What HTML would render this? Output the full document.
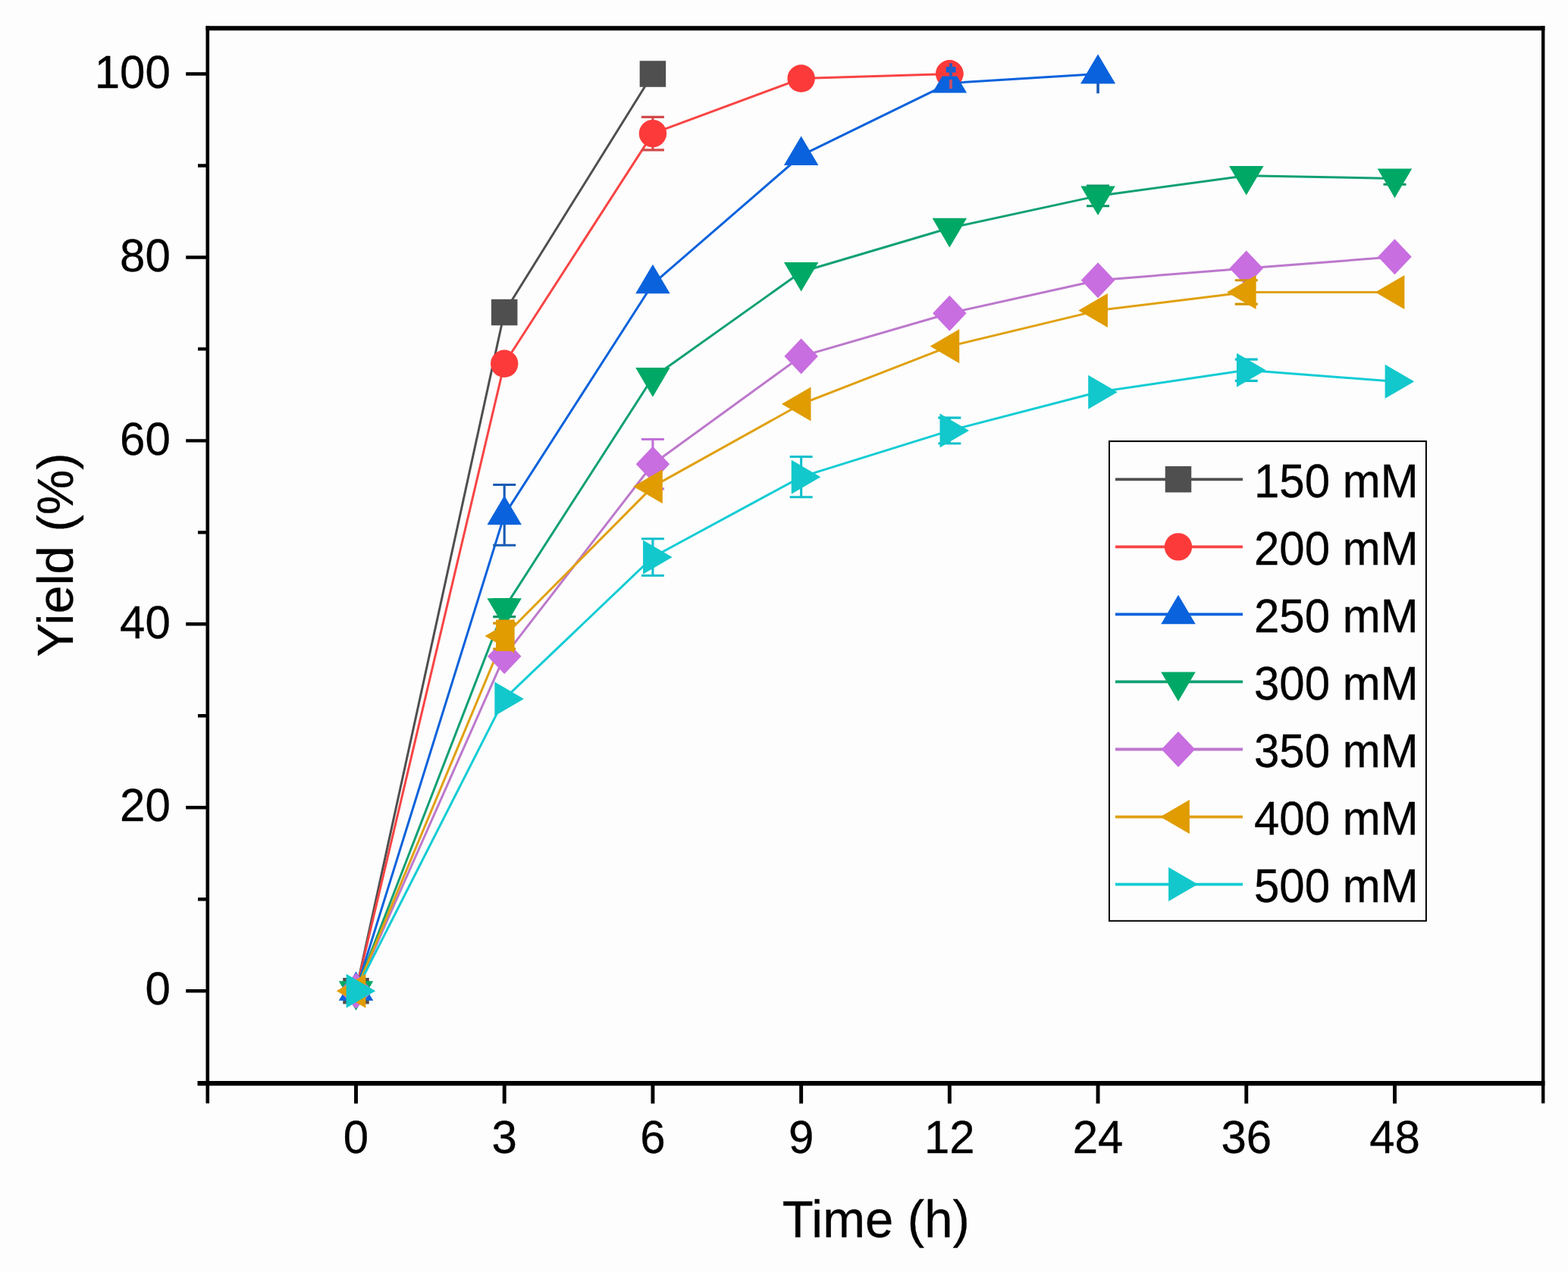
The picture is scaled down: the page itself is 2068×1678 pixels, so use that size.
<!DOCTYPE html>
<html><head><meta charset="utf-8"><title>Yield vs Time</title>
<style>html,body{margin:0;padding:0;overflow:hidden;background:#fdfdfd;}svg{display:block;}</style></head><body>
<svg width="2068" height="1678" viewBox="0 0 2068 1678" font-family="'Liberation Sans', Arial, sans-serif">
<rect width="2068" height="1678" fill="#fdfdfd"/>
<g fill="none" stroke-width="3.0" stroke-linejoin="round">
<polyline points="469.51,1307.20 665.22,412.02 860.93,97.50" stroke="#4f4f4f"/>
<polyline points="469.51,1307.20 665.22,479.77 860.93,176.13 1056.64,103.55 1252.36,97.50" stroke="#f84444"/>
<polyline points="469.51,1307.20 665.22,679.37 860.93,374.52 1056.64,205.16 1252.36,109.60 1448.07,97.50" stroke="#0a62dc"/>
<polyline points="469.51,1307.20 665.22,802.15 860.93,497.91 1056.64,358.80 1252.36,300.73 1448.07,258.39 1643.78,231.78 1839.49,235.41" stroke="#10a074"/>
<polyline points="469.51,1307.20 665.22,865.66 860.93,612.23 1056.64,470.09 1252.36,413.23 1448.07,369.68 1643.78,353.96 1839.49,338.84" stroke="#bc78cc"/>
<polyline points="469.51,1307.20 665.22,839.05 860.93,641.87 1056.64,532.99 1252.36,456.78 1448.07,409.60 1643.78,385.41 1839.49,385.41" stroke="#e0a010"/>
<polyline points="469.51,1307.20 665.22,921.91 860.93,735.01 1056.64,629.16 1252.36,568.07 1448.07,517.27 1643.78,488.23 1839.49,503.35" stroke="#12ccd4"/>
</g>
<g><rect x="452.26" y="1289.95" width="34.5" height="34.5" fill="#4f4f4f"/><rect x="647.97" y="394.77" width="34.5" height="34.5" fill="#4f4f4f"/><rect x="843.68" y="80.25" width="34.5" height="34.5" fill="#4f4f4f"/></g>
<g><path d="M860.93 154.36V197.91M845.93 154.36H875.93M845.93 197.91H875.93" stroke="#d24a4a" stroke-width="3.1" fill="none"/><circle cx="469.51" cy="1307.20" r="18.2" fill="#fc3a3a"/><circle cx="665.22" cy="479.77" r="18.2" fill="#fc3a3a"/><circle cx="860.93" cy="176.13" r="18.2" fill="#fc3a3a"/><circle cx="1056.64" cy="103.55" r="18.2" fill="#fc3a3a"/><circle cx="1252.36" cy="97.50" r="18.2" fill="#fc3a3a"/></g>
<g><path d="M665.22 639.45V719.29M650.22 639.45H680.22M650.22 719.29H680.22" stroke="#1a5cb4" stroke-width="3.1" fill="none"/><polygon points="469.51,1281.53 492.26,1320.03 446.76,1320.03" fill="#0a62dc"/><polygon points="665.22,653.70 687.97,692.20 642.47,692.20" fill="#0a62dc"/><polygon points="860.93,348.85 883.68,387.35 838.18,387.35" fill="#0a62dc"/><polygon points="1056.64,179.50 1079.39,218.00 1033.89,218.00" fill="#0a62dc"/><polygon points="1252.36,83.93 1275.11,122.43 1229.61,122.43" fill="#0a62dc"/><polygon points="1448.07,71.83 1470.82,110.33 1425.32,110.33" fill="#0a62dc"/></g>
<g><path d="M665.22 790.66V813.64M650.22 790.66H680.22M650.22 813.64H680.22" stroke="#0c9464" stroke-width="3.1" fill="none"/><path d="M1448.07 245.08V271.70M1433.07 245.08H1463.07M1433.07 271.70H1463.07" stroke="#0c9464" stroke-width="3.1" fill="none"/><path d="M1839.49 227.54V243.27M1824.49 227.54H1854.49M1824.49 243.27H1854.49" stroke="#0c9464" stroke-width="3.1" fill="none"/><polygon points="446.76,1294.33 492.26,1294.33 469.51,1332.93" fill="#00a866"/><polygon points="642.47,789.28 687.97,789.28 665.22,827.88" fill="#00a866"/><polygon points="838.18,485.04 883.68,485.04 860.93,523.64" fill="#00a866"/><polygon points="1033.89,345.93 1079.39,345.93 1056.64,384.53" fill="#00a866"/><polygon points="1229.61,287.86 1275.11,287.86 1252.36,326.46" fill="#00a866"/><polygon points="1425.32,245.52 1470.82,245.52 1448.07,284.12" fill="#00a866"/><polygon points="1621.03,218.91 1666.53,218.91 1643.78,257.51" fill="#00a866"/><polygon points="1816.74,222.54 1862.24,222.54 1839.49,261.14" fill="#00a866"/></g>
<g><path d="M860.93 579.57V644.89M845.93 579.57H875.93M845.93 644.89H875.93" stroke="#c070d8" stroke-width="3.1" fill="none"/><polygon points="469.51,1283.70 491.76,1307.20 469.51,1330.70 447.26,1307.20" fill="#c86ee0"/><polygon points="665.22,842.16 687.47,865.66 665.22,889.16 642.97,865.66" fill="#c86ee0"/><polygon points="860.93,588.73 883.18,612.23 860.93,635.73 838.68,612.23" fill="#c86ee0"/><polygon points="1056.64,446.59 1078.89,470.09 1056.64,493.59 1034.39,470.09" fill="#c86ee0"/><polygon points="1252.36,389.73 1274.61,413.23 1252.36,436.73 1230.11,413.23" fill="#c86ee0"/><polygon points="1448.07,346.18 1470.32,369.68 1448.07,393.18 1425.82,369.68" fill="#c86ee0"/><polygon points="1643.78,330.46 1666.03,353.96 1643.78,377.46 1621.53,353.96" fill="#c86ee0"/><polygon points="1839.49,315.34 1861.74,338.84 1839.49,362.34 1817.24,338.84" fill="#c86ee0"/></g>
<g><path d="M665.22 822.11V855.98M650.22 822.11H680.22M650.22 855.98H680.22" stroke="#d09400" stroke-width="3.1" fill="none"/><path d="M1643.78 369.68V401.13M1628.78 369.68H1658.78M1628.78 401.13H1658.78" stroke="#d09400" stroke-width="3.1" fill="none"/><polygon points="443.78,1307.20 482.38,1284.70 482.38,1329.70" fill="#e09c00"/><rect x="654" y="817.5" width="24.6" height="41.5" fill="#e09c00"/><polygon points="639.49,839.05 678.09,816.55 678.09,861.55" fill="#e09c00"/><polygon points="835.20,641.87 873.80,619.37 873.80,664.37" fill="#e09c00"/><polygon points="1030.91,532.99 1069.51,510.49 1069.51,555.49" fill="#e09c00"/><polygon points="1226.62,456.78 1265.22,434.28 1265.22,479.28" fill="#e09c00"/><polygon points="1422.33,409.60 1460.93,387.10 1460.93,432.10" fill="#e09c00"/><polygon points="1618.04,385.41 1656.64,362.91 1656.64,407.91" fill="#e09c00"/><polygon points="1813.76,385.41 1852.36,362.91 1852.36,407.91" fill="#e09c00"/></g>
<g><path d="M860.93 710.82V759.21M845.93 710.82H875.93M845.93 759.21H875.93" stroke="#10c0cc" stroke-width="3.1" fill="none"/><path d="M1056.64 602.55V655.78M1041.64 602.55H1071.64M1041.64 655.78H1071.64" stroke="#10c0cc" stroke-width="3.1" fill="none"/><path d="M1252.36 551.14V585.01M1237.36 551.14H1267.36M1237.36 585.01H1267.36" stroke="#10c0cc" stroke-width="3.1" fill="none"/><path d="M1643.78 474.08V502.39M1628.78 474.08H1658.78M1628.78 502.39H1658.78" stroke="#10c0cc" stroke-width="3.1" fill="none"/><polygon points="495.24,1307.20 456.64,1284.70 456.64,1329.70" fill="#12c8cc"/><polygon points="690.96,921.91 652.36,899.41 652.36,944.41" fill="#12c8cc"/><polygon points="886.67,735.01 848.07,712.51 848.07,757.51" fill="#12c8cc"/><polygon points="1082.38,629.16 1043.78,606.66 1043.78,651.66" fill="#12c8cc"/><polygon points="1278.09,568.07 1239.49,545.57 1239.49,590.57" fill="#12c8cc"/><polygon points="1473.80,517.27 1435.20,494.77 1435.20,539.77" fill="#12c8cc"/><polygon points="1669.51,488.23 1630.91,465.73 1630.91,510.73" fill="#12c8cc"/><polygon points="1865.22,503.35 1826.62,480.85 1826.62,525.85" fill="#12c8cc"/></g>
<path d="M1448.07 97.50V123.2" stroke="#1a5cb4" stroke-width="3.6"/>
<polygon points="1448.07,71.83 1470.82,110.33 1425.32,110.33" fill="#0a62dc"/>
<clipPath id="c12"><rect x="1200" y="60" width="110" height="40.5"/></clipPath>
<circle cx="1252.36" cy="97.50" r="18.2" fill="#fc3a3a" clip-path="url(#c12)"/>
<rect x="1247.7" y="88.2" width="12.9" height="7.4" fill="#0a62dc"/>
<rect x="1252" y="83.4" width="4" height="17.2" fill="#2a5cc0"/>
<rect x="1252" y="105" width="4" height="12" fill="#c0506a"/>
<g stroke="#000" fill="none">
<path d="M273.80 34.3V1455.5" stroke-width="4.6"/>
<path d="M2035.20 34.3V1455.5" stroke-width="4.4"/>
<path d="M271.50 37.30H2037.40" stroke-width="6"/>
<path d="M260.5 1429.20H2037.40" stroke-width="6.2"/>
<path d="M245.2 1307.20H273.80M245.2 1065.26H273.80M245.2 823.32H273.80M245.2 581.38H273.80M245.2 339.44H273.80M245.2 97.50H273.80M261 1186.23H273.80M261 944.29H273.80M261 702.35H273.80M261 460.41H273.80M261 218.47H273.80" stroke-width="4.4"/>
<path d="M469.51 1429.00V1455.8M665.22 1429.00V1455.8M860.93 1429.00V1455.8M1056.64 1429.00V1455.8M1252.36 1429.00V1455.8M1448.07 1429.00V1455.8M1643.78 1429.00V1455.8M1839.49 1429.00V1455.8" stroke-width="4.9"/>
</g>
<g fill="#000">
<text transform="translate(224.80 1325.40) scale(1 1.03)" font-size="60" text-anchor="end" stroke="#000" stroke-width="0.3">0</text>
<text transform="translate(224.80 1083.46) scale(1 1.03)" font-size="60" text-anchor="end" stroke="#000" stroke-width="0.3">20</text>
<text transform="translate(224.80 841.52) scale(1 1.03)" font-size="60" text-anchor="end" stroke="#000" stroke-width="0.3">40</text>
<text transform="translate(224.80 599.58) scale(1 1.03)" font-size="60" text-anchor="end" stroke="#000" stroke-width="0.3">60</text>
<text transform="translate(224.80 357.64) scale(1 1.03)" font-size="60" text-anchor="end" stroke="#000" stroke-width="0.3">80</text>
<text transform="translate(224.80 115.70) scale(1 1.03)" font-size="60" text-anchor="end" stroke="#000" stroke-width="0.3">100</text>
<text transform="translate(469.51 1521.40) scale(1 1.03)" font-size="60" text-anchor="middle" stroke="#000" stroke-width="0.3">0</text>
<text transform="translate(665.22 1521.40) scale(1 1.03)" font-size="60" text-anchor="middle" stroke="#000" stroke-width="0.3">3</text>
<text transform="translate(860.93 1521.40) scale(1 1.03)" font-size="60" text-anchor="middle" stroke="#000" stroke-width="0.3">6</text>
<text transform="translate(1056.64 1521.40) scale(1 1.03)" font-size="60" text-anchor="middle" stroke="#000" stroke-width="0.3">9</text>
<text transform="translate(1252.36 1521.40) scale(1 1.03)" font-size="60" text-anchor="middle" stroke="#000" stroke-width="0.3">12</text>
<text transform="translate(1448.07 1521.40) scale(1 1.03)" font-size="60" text-anchor="middle" stroke="#000" stroke-width="0.3">24</text>
<text transform="translate(1643.78 1521.40) scale(1 1.03)" font-size="60" text-anchor="middle" stroke="#000" stroke-width="0.3">36</text>
<text transform="translate(1839.49 1521.40) scale(1 1.03)" font-size="60" text-anchor="middle" stroke="#000" stroke-width="0.3">48</text>
</g>
<text transform="translate(1155.30 1631.80) scale(1 1.01)" font-size="67" text-anchor="middle" stroke="#000" stroke-width="0.3">Time (h)</text>
<text transform="translate(96.40 732.00) rotate(-90) scale(1 1.0)" font-size="67" text-anchor="middle" stroke="#000" stroke-width="0.3">Yield (%)</text>
<rect x="1463.0" y="582.1" width="417.9" height="632.7" fill="#fdfdfd" stroke="#000" stroke-width="2"/>
<path d="M1471 632.30H1639" stroke="#4f4f4f" stroke-width="3.8"/>
<rect x="1536.75" y="615.05" width="34.5" height="34.5" fill="#4f4f4f"/>
<text transform="translate(1654.00 656.10) scale(1 1.035)" font-size="60" stroke="#000" stroke-width="0.3">150 mM</text>
<path d="M1471 721.35H1639" stroke="#f84444" stroke-width="3.8"/>
<circle cx="1554.00" cy="721.35" r="18.2" fill="#fc3a3a"/>
<text transform="translate(1654.00 745.15) scale(1 1.035)" font-size="60" stroke="#000" stroke-width="0.3">200 mM</text>
<path d="M1471 810.40H1639" stroke="#0a62dc" stroke-width="3.8"/>
<polygon points="1554.00,784.73 1576.75,823.23 1531.25,823.23" fill="#0a62dc"/>
<text transform="translate(1654.00 834.20) scale(1 1.035)" font-size="60" stroke="#000" stroke-width="0.3">250 mM</text>
<path d="M1471 899.45H1639" stroke="#10a074" stroke-width="3.8"/>
<polygon points="1531.25,886.58 1576.75,886.58 1554.00,925.18" fill="#00a866"/>
<text transform="translate(1654.00 923.25) scale(1 1.035)" font-size="60" stroke="#000" stroke-width="0.3">300 mM</text>
<path d="M1471 988.50H1639" stroke="#bc78cc" stroke-width="3.8"/>
<polygon points="1554.00,965.00 1576.25,988.50 1554.00,1012.00 1531.75,988.50" fill="#c86ee0"/>
<text transform="translate(1654.00 1012.30) scale(1 1.035)" font-size="60" stroke="#000" stroke-width="0.3">350 mM</text>
<path d="M1471 1077.55H1639" stroke="#e0a010" stroke-width="3.8"/>
<polygon points="1530.27,1077.55 1568.87,1055.05 1568.87,1100.05" fill="#e09c00"/>
<text transform="translate(1654.00 1101.35) scale(1 1.035)" font-size="60" stroke="#000" stroke-width="0.3">400 mM</text>
<path d="M1471 1166.60H1639" stroke="#12ccd4" stroke-width="3.8"/>
<polygon points="1579.73,1166.60 1541.13,1144.10 1541.13,1189.10" fill="#12c8cc"/>
<text transform="translate(1654.00 1190.40) scale(1 1.035)" font-size="60" stroke="#000" stroke-width="0.3">500 mM</text>
</svg></body></html>
